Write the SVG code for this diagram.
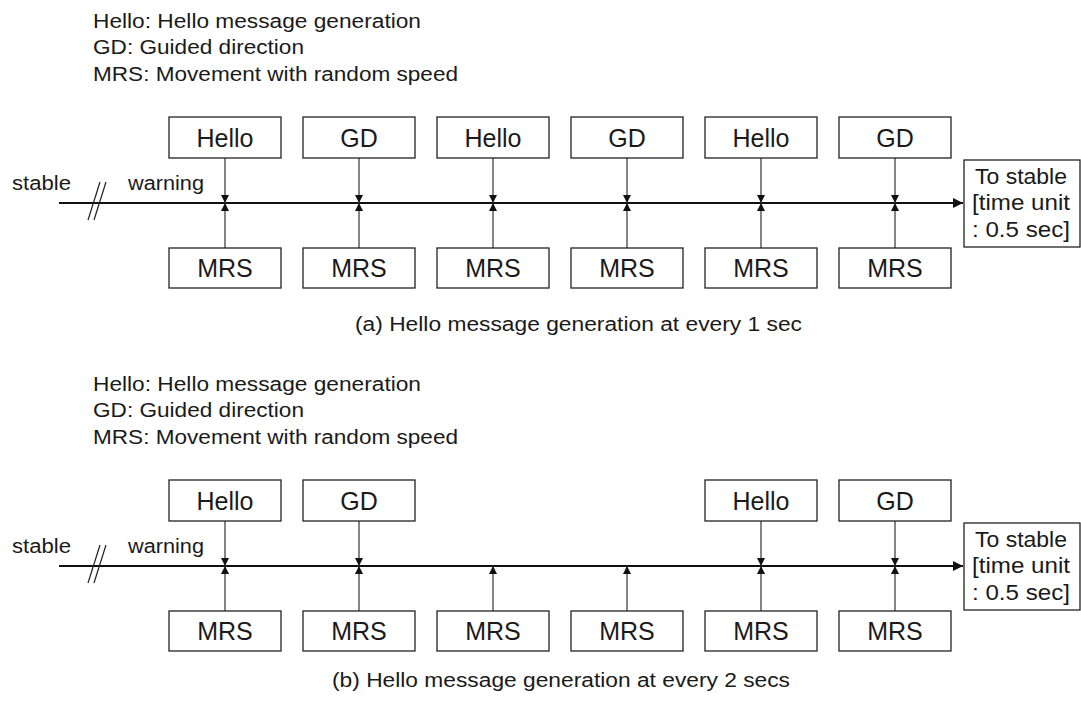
<svg xmlns="http://www.w3.org/2000/svg" width="1081" height="707" viewBox="0 0 1081 707">
<defs>
<style>
text{font-family:"Liberation Sans",Arial,sans-serif;fill:#1a1a1a}
.t{font-size:20px}
.b{font-size:25px;text-anchor:middle}
.s{font-size:22px}
.box{fill:#fff;stroke:#222;stroke-width:1.3}
.v{stroke:#333;stroke-width:1.2;fill:none}
.ax{stroke:#111;stroke-width:2;fill:none}
.sl{stroke:#222;stroke-width:1.2}
.hd{fill:#111}
</style>
<marker id="ah" viewBox="0 0 10 10" refX="10" refY="5" markerWidth="11" markerHeight="10" markerUnits="userSpaceOnUse" orient="auto"><path d="M0,0 L10,5 L0,10 Z" class="hd"/></marker>
<marker id="tk" viewBox="0 0 8 8" refX="8" refY="4" markerWidth="8" markerHeight="8" markerUnits="userSpaceOnUse" orient="auto"><path d="M0,0 L8,4 L0,8 Z" class="hd"/></marker>
</defs>
<rect width="1081" height="707" fill="#fff"/>

<!-- Part (a) -->
<g id="legend-a">
<text class="t" x="93" y="28" textLength="328" lengthAdjust="spacingAndGlyphs">Hello: Hello message generation</text>
<text class="t" x="93" y="54" textLength="211" lengthAdjust="spacingAndGlyphs">GD: Guided direction</text>
<text class="t" x="93" y="81" textLength="365" lengthAdjust="spacingAndGlyphs">MRS: Movement with random speed</text>
</g>
<g id="labels-a">
<text class="t" x="12" y="190" textLength="59" lengthAdjust="spacingAndGlyphs">stable</text>
<text class="t" x="128" y="190" textLength="76" lengthAdjust="spacingAndGlyphs">warning</text>
</g>
<g id="connectors-a">
<line class="ax" x1="59" y1="203" x2="963" y2="203" marker-end="url(#ah)"/>
<line class="sl" x1="88" y1="220" x2="100" y2="182"/>
<line class="sl" x1="94" y1="220" x2="106" y2="182"/>
<line class="v" x1="225" y1="158" x2="225" y2="203" marker-end="url(#tk)"/>
<line class="v" x1="225" y1="248" x2="225" y2="203" marker-end="url(#tk)"/>
<line class="v" x1="359" y1="158" x2="359" y2="203" marker-end="url(#tk)"/>
<line class="v" x1="359" y1="248" x2="359" y2="203" marker-end="url(#tk)"/>
<line class="v" x1="493" y1="158" x2="493" y2="203" marker-end="url(#tk)"/>
<line class="v" x1="493" y1="248" x2="493" y2="203" marker-end="url(#tk)"/>
<line class="v" x1="627" y1="158" x2="627" y2="203" marker-end="url(#tk)"/>
<line class="v" x1="627" y1="248" x2="627" y2="203" marker-end="url(#tk)"/>
<line class="v" x1="761" y1="158" x2="761" y2="203" marker-end="url(#tk)"/>
<line class="v" x1="761" y1="248" x2="761" y2="203" marker-end="url(#tk)"/>
<line class="v" x1="895" y1="158" x2="895" y2="203" marker-end="url(#tk)"/>
<line class="v" x1="895" y1="248" x2="895" y2="203" marker-end="url(#tk)"/>
</g>
<g id="a-top1"><rect class="box" x="169" y="117" width="112" height="41"/><text class="b" x="225" y="147">Hello</text></g>
<g id="a-top2"><rect class="box" x="303" y="117" width="112" height="41"/><text class="b" x="359" y="147">GD</text></g>
<g id="a-top3"><rect class="box" x="437" y="117" width="112" height="41"/><text class="b" x="493" y="147">Hello</text></g>
<g id="a-top4"><rect class="box" x="571" y="117" width="112" height="41"/><text class="b" x="627" y="147">GD</text></g>
<g id="a-top5"><rect class="box" x="705" y="117" width="112" height="41"/><text class="b" x="761" y="147">Hello</text></g>
<g id="a-top6"><rect class="box" x="839" y="117" width="112" height="41"/><text class="b" x="895" y="147">GD</text></g>
<g id="a-bot1"><rect class="box" x="169" y="248" width="112" height="40"/><text class="b" x="225" y="277">MRS</text></g>
<g id="a-bot2"><rect class="box" x="303" y="248" width="112" height="40"/><text class="b" x="359" y="277">MRS</text></g>
<g id="a-bot3"><rect class="box" x="437" y="248" width="112" height="40"/><text class="b" x="493" y="277">MRS</text></g>
<g id="a-bot4"><rect class="box" x="571" y="248" width="112" height="40"/><text class="b" x="627" y="277">MRS</text></g>
<g id="a-bot5"><rect class="box" x="705" y="248" width="112" height="40"/><text class="b" x="761" y="277">MRS</text></g>
<g id="a-bot6"><rect class="box" x="839" y="248" width="112" height="40"/><text class="b" x="895" y="277">MRS</text></g>
<g id="a-end"><rect class="box" x="964" y="160" width="116" height="87"/>
<text class="s" x="975" y="184" textLength="92" lengthAdjust="spacingAndGlyphs">To stable</text>
<text class="s" x="972" y="210" textLength="98" lengthAdjust="spacingAndGlyphs">[time unit</text>
<text class="s" x="972" y="237" textLength="98" lengthAdjust="spacingAndGlyphs">: 0.5 sec]</text></g>
<g id="caption-a"><text class="t" x="355" y="331" textLength="447" lengthAdjust="spacingAndGlyphs">(a) Hello message generation at every 1 sec</text></g>

<!-- Part (b) -->
<g id="legend-b">
<text class="t" x="93" y="391" textLength="328" lengthAdjust="spacingAndGlyphs">Hello: Hello message generation</text>
<text class="t" x="93" y="417" textLength="211" lengthAdjust="spacingAndGlyphs">GD: Guided direction</text>
<text class="t" x="93" y="444" textLength="365" lengthAdjust="spacingAndGlyphs">MRS: Movement with random speed</text>
</g>
<g id="labels-b">
<text class="t" x="12" y="553" textLength="59" lengthAdjust="spacingAndGlyphs">stable</text>
<text class="t" x="128" y="553" textLength="76" lengthAdjust="spacingAndGlyphs">warning</text>
</g>
<g id="connectors-b">
<line class="ax" x1="59" y1="566" x2="963" y2="566" marker-end="url(#ah)"/>
<line class="sl" x1="88" y1="583" x2="100" y2="545"/>
<line class="sl" x1="94" y1="583" x2="106" y2="545"/>
<line class="v" x1="225" y1="521" x2="225" y2="566" marker-end="url(#tk)"/>
<line class="v" x1="225" y1="611" x2="225" y2="566" marker-end="url(#tk)"/>
<line class="v" x1="359" y1="521" x2="359" y2="566" marker-end="url(#tk)"/>
<line class="v" x1="359" y1="611" x2="359" y2="566" marker-end="url(#tk)"/>
<line class="v" x1="493" y1="611" x2="493" y2="566" marker-end="url(#tk)"/>
<line class="v" x1="627" y1="611" x2="627" y2="566" marker-end="url(#tk)"/>
<line class="v" x1="761" y1="521" x2="761" y2="566" marker-end="url(#tk)"/>
<line class="v" x1="761" y1="611" x2="761" y2="566" marker-end="url(#tk)"/>
<line class="v" x1="895" y1="521" x2="895" y2="566" marker-end="url(#tk)"/>
<line class="v" x1="895" y1="611" x2="895" y2="566" marker-end="url(#tk)"/>
</g>
<g id="b-top1"><rect class="box" x="169" y="480" width="112" height="41"/><text class="b" x="225" y="510">Hello</text></g>
<g id="b-top2"><rect class="box" x="303" y="480" width="112" height="41"/><text class="b" x="359" y="510">GD</text></g>
<g id="b-top5"><rect class="box" x="705" y="480" width="112" height="41"/><text class="b" x="761" y="510">Hello</text></g>
<g id="b-top6"><rect class="box" x="839" y="480" width="112" height="41"/><text class="b" x="895" y="510">GD</text></g>
<g id="b-bot1"><rect class="box" x="169" y="611" width="112" height="40"/><text class="b" x="225" y="640">MRS</text></g>
<g id="b-bot2"><rect class="box" x="303" y="611" width="112" height="40"/><text class="b" x="359" y="640">MRS</text></g>
<g id="b-bot3"><rect class="box" x="437" y="611" width="112" height="40"/><text class="b" x="493" y="640">MRS</text></g>
<g id="b-bot4"><rect class="box" x="571" y="611" width="112" height="40"/><text class="b" x="627" y="640">MRS</text></g>
<g id="b-bot5"><rect class="box" x="705" y="611" width="112" height="40"/><text class="b" x="761" y="640">MRS</text></g>
<g id="b-bot6"><rect class="box" x="839" y="611" width="112" height="40"/><text class="b" x="895" y="640">MRS</text></g>
<g id="b-end"><rect class="box" x="964" y="523" width="116" height="87"/>
<text class="s" x="975" y="547" textLength="92" lengthAdjust="spacingAndGlyphs">To stable</text>
<text class="s" x="972" y="573" textLength="98" lengthAdjust="spacingAndGlyphs">[time unit</text>
<text class="s" x="972" y="600" textLength="98" lengthAdjust="spacingAndGlyphs">: 0.5 sec]</text></g>
<g id="caption-b"><text class="t" x="332" y="687" textLength="458" lengthAdjust="spacingAndGlyphs">(b) Hello message generation at every 2 secs</text></g>
</svg>
